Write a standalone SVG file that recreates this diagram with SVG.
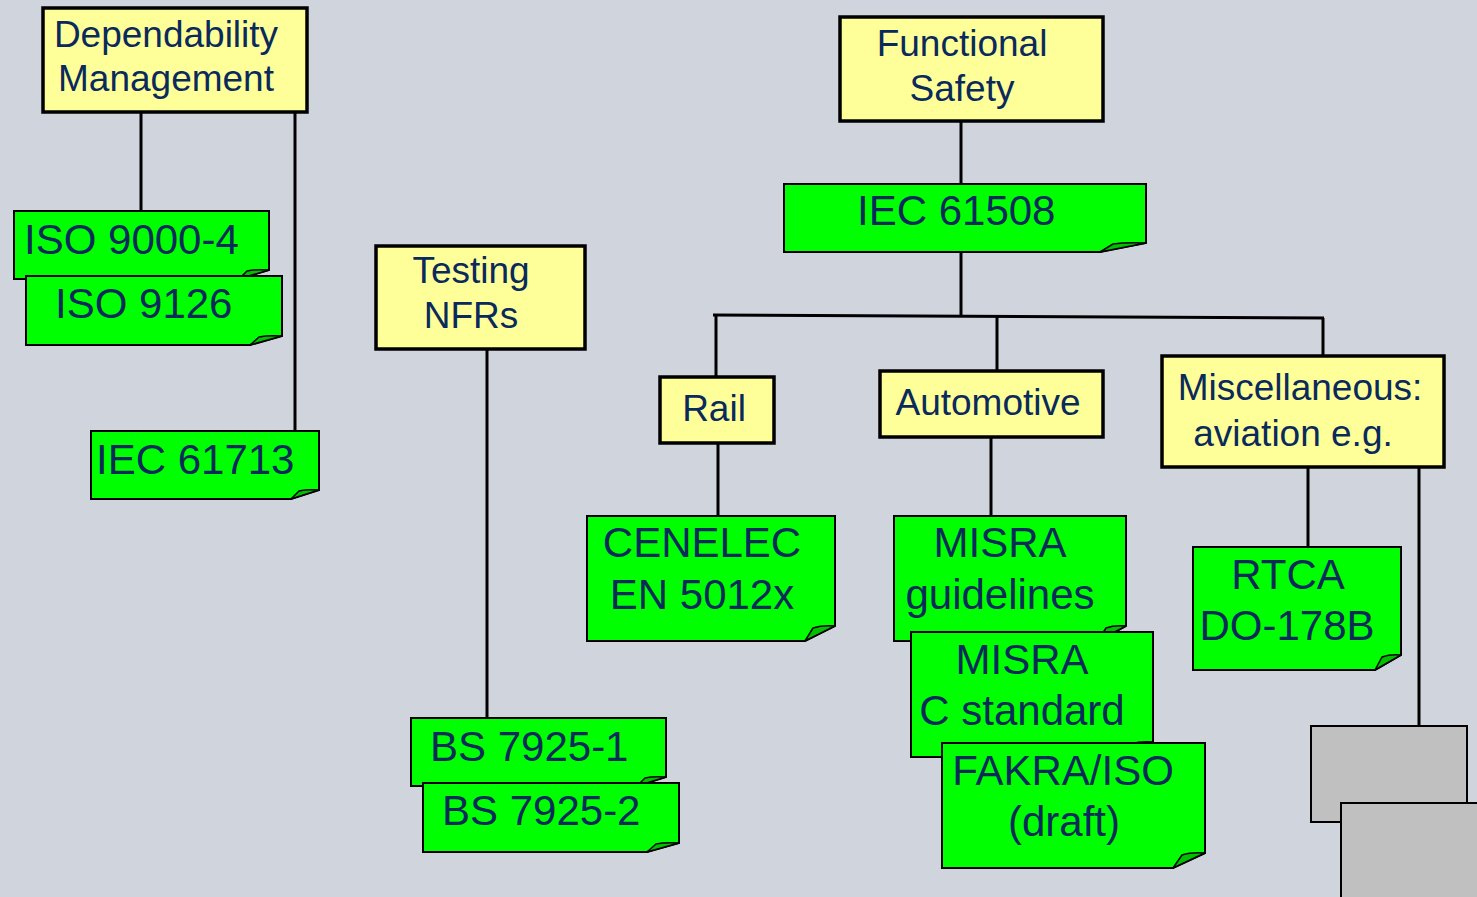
<svg xmlns="http://www.w3.org/2000/svg" width="1477" height="897" viewBox="0 0 1477 897">
<style>
.bg{fill:#D0D4DC}
.yb{fill:#FFFF99;stroke:#000;stroke-width:3.5}
.gb{fill:#00FF00;stroke:#000;stroke-width:2;stroke-linejoin:miter}
.cu{fill:#00C000;stroke:#000;stroke-width:1.5;stroke-linejoin:round}
.gr{fill:#C0C0C0;stroke:#000;stroke-width:2}
.ln{stroke:#000;stroke-width:3;fill:none}
.ty{font-family:"Liberation Sans",Arial,sans-serif;font-size:37px;fill:#0A2A5C}
.tg{font-family:"Liberation Sans",Arial,sans-serif;font-size:42px;fill:#0A2A5C}
.m{text-anchor:middle}
</style>
<rect class="bg" x="0" y="0" width="1477" height="897"/>
<g id="connectors">
<line class="ln" x1="141" y1="112" x2="141" y2="211"/>
<line class="ln" x1="295" y1="112" x2="295" y2="431"/>
<line class="ln" x1="487" y1="349" x2="487" y2="718"/>
<line class="ln" x1="961" y1="121" x2="961" y2="184"/>
<line class="ln" x1="961" y1="252" x2="961" y2="316"/>
<line class="ln" x1="713" y1="315" x2="1324" y2="318"/>
<line class="ln" x1="716" y1="315" x2="716" y2="377"/>
<line class="ln" x1="997" y1="317" x2="997" y2="371"/>
<line class="ln" x1="1323" y1="318" x2="1323" y2="356"/>
<line class="ln" x1="718" y1="443" x2="718" y2="516"/>
<line class="ln" x1="991" y1="437" x2="991" y2="516"/>
<line class="ln" x1="1308" y1="467" x2="1308" y2="547"/>
<line class="ln" x1="1419" y1="467" x2="1419" y2="726"/>
</g>
<g id="dependability">
<rect class="yb" x="43" y="8" width="264" height="104"/>
<text class="ty m" x="166" y="47">Dependability</text>
<text class="ty m" x="166" y="91">Management</text>
</g>
<g id="iso9000">
<path class="gb" d="M14,211 H269 V270 L239,279 H14 Z"/>
<path class="cu" d="M239,279 L247,271 Q256,269 269,270 Z"/>
<text class="tg" x="24" y="254">ISO 9000-4</text>
</g>
<g id="iso9126">
<path class="gb" d="M26,276 H282 V336 L250,345 H26 Z"/>
<path class="cu" d="M250,345 L259,337 Q268,335 282,336 Z"/>
<text class="tg" x="55" y="318">ISO 9126</text>
</g>
<g id="iec61713">
<path class="gb" d="M91,431 H319 V490 L291,499 H91 Z"/>
<path class="cu" d="M291,499 L299,491 Q307,489 319,490 Z"/>
<text class="tg" x="96" y="474">IEC 61713</text>
</g>
<g id="testing">
<rect class="yb" x="376" y="246" width="209" height="103"/>
<text class="ty m" x="471" y="283">Testing</text>
<text class="ty m" x="471" y="328">NFRs</text>
</g>
<g id="bs1">
<path class="gb" d="M411,718 H666 V777 L637,786 H411 Z"/>
<path class="cu" d="M637,786 L645,778 Q653,776 666,777 Z"/>
<text class="tg" x="430" y="761">BS 7925-1</text>
</g>
<g id="bs2">
<path class="gb" d="M423,783 H679 V843 L647,852 H423 Z"/>
<path class="cu" d="M647,852 L656,844 Q665,842 679,843 Z"/>
<text class="tg" x="442" y="825">BS 7925-2</text>
</g>
<g id="functional">
<rect class="yb" x="840" y="17" width="263" height="104"/>
<text class="ty m" x="962" y="56">Functional</text>
<text class="ty m" x="962" y="101">Safety</text>
</g>
<g id="iec61508">
<path class="gb" d="M784,184 H1146 V243 L1100,252 H784 Z"/>
<path class="cu" d="M1100,252 L1113,244 Q1126,242 1146,243 Z"/>
<text class="tg" x="857" y="225">IEC 61508</text>
</g>
<g id="rail">
<rect class="yb" x="660" y="377" width="114" height="66"/>
<text class="ty m" x="714" y="421">Rail</text>
</g>
<g id="automotive">
<rect class="yb" x="880" y="371" width="223" height="66"/>
<text class="ty m" x="988" y="415">Automotive</text>
</g>
<g id="misc">
<rect class="yb" x="1162" y="356" width="282" height="111"/>
<text class="ty m" x="1300" y="400">Miscellaneous:</text>
<text class="ty m" x="1293" y="446">aviation e.g.</text>
</g>
<g id="cenelec">
<path class="gb" d="M587,516 H835 V626 L805,641 H587 Z"/>
<path class="cu" d="M805,641 L813,628 Q822,625 835,626 Z"/>
<text class="tg m" x="702" y="557">CENELEC</text>
<text class="tg m" x="702" y="609">EN 5012x</text>
</g>
<g id="misra-guidelines">
<path class="gb" d="M894,516 H1126 V626 L1098,641 H894 Z"/>
<path class="cu" d="M1098,641 L1106,628 Q1114,625 1126,626 Z"/>
<text class="tg m" x="1000" y="557">MISRA</text>
<text class="tg m" x="1000" y="609">guidelines</text>
</g>
<g id="misra-c">
<path class="gb" d="M911,632 H1153 V742 L1123,757 H911 Z"/>
<path class="cu" d="M1123,757 L1131,744 Q1140,741 1153,742 Z"/>
<text class="tg m" x="1022" y="674">MISRA</text>
<text class="tg m" x="1022" y="725">C standard</text>
</g>
<g id="fakra">
<path class="gb" d="M942,743 H1205 V853 L1173,868 H942 Z"/>
<path class="cu" d="M1173,868 L1182,855 Q1191,852 1205,853 Z"/>
<text class="tg m" x="1063" y="785">FAKRA/ISO</text>
<text class="tg m" x="1064" y="836">(draft)</text>
</g>
<g id="rtca">
<path class="gb" d="M1193,547 H1401 V655 L1375,670 H1193 Z"/>
<path class="cu" d="M1375,670 L1382,657 Q1390,654 1401,655 Z"/>
<text class="tg m" x="1288" y="589">RTCA</text>
<text class="tg m" x="1287" y="640">DO-178B</text>
</g>
<g id="gray1">
<rect class="gr" x="1311" y="726" width="156" height="96"/>
</g>
<g id="gray2">
<rect class="gr" x="1341" y="803" width="140" height="100"/>
</g>
</svg>
